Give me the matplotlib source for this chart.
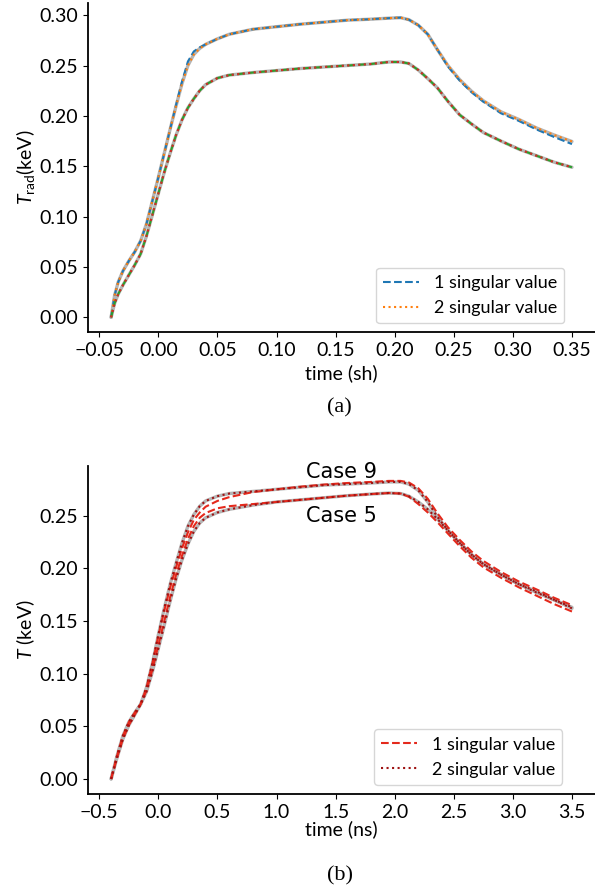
import matplotlib
matplotlib.use("Agg")
import matplotlib.pyplot as plt
from matplotlib.ticker import MultipleLocator

plt.rcParams['font.family'] = ['Lato', 'DejaVu Sans']
plt.rcParams['font.size'] = 14
plt.rcParams['legend.fontsize'] = 13
plt.rcParams['mathtext.fontset'] = 'custom'
plt.rcParams['mathtext.rm'] = 'Lato'
plt.rcParams['mathtext.it'] = 'Lato:italic'
plt.rcParams['axes.linewidth'] = 1.3

# (a) radiation temperature vs time in shakes
t_sh = [-0.040, -0.037, -0.034, -0.030, -0.025, -0.020, -0.015, -0.010, -0.005, 0.000,
        0.005, 0.010, 0.015, 0.020, 0.025, 0.030, 0.035, 0.040, 0.050, 0.060,
        0.080, 0.100, 0.120, 0.140, 0.160, 0.180, 0.195, 0.205, 0.212, 0.220,
        0.228, 0.236, 0.245, 0.255, 0.265, 0.275, 0.290, 0.305, 0.320, 0.335, 0.350]
upper_ref = [0.000, 0.022, 0.035, 0.046, 0.056, 0.065, 0.076, 0.093, 0.116, 0.139,
             0.163, 0.187, 0.210, 0.232, 0.250, 0.261, 0.267, 0.271, 0.2765, 0.281,
             0.286, 0.2885, 0.291, 0.293, 0.295, 0.296, 0.297, 0.2975, 0.2955, 0.290,
             0.281, 0.266, 0.250, 0.236, 0.2245, 0.215, 0.204, 0.1965, 0.188, 0.181, 0.1746]
upper_sv1 = [0.000, 0.022, 0.035, 0.046, 0.056, 0.065, 0.076, 0.093, 0.116, 0.139,
             0.163, 0.187, 0.211, 0.234, 0.254, 0.264, 0.268, 0.271, 0.2765, 0.281,
             0.286, 0.2885, 0.291, 0.293, 0.295, 0.296, 0.297, 0.2975, 0.2955, 0.290,
             0.281, 0.266, 0.249, 0.235, 0.2235, 0.214, 0.2025, 0.195, 0.1865, 0.179, 0.172]
upper_sv2 = upper_ref
lower_ref = [0.000, 0.014, 0.023, 0.032, 0.042, 0.052, 0.063, 0.081, 0.102, 0.123,
             0.144, 0.163, 0.181, 0.196, 0.208, 0.217, 0.225, 0.231, 0.2375, 0.2405,
             0.243, 0.245, 0.247, 0.2485, 0.250, 0.2515, 0.2535, 0.2535, 0.252, 0.2455,
             0.237, 0.228, 0.2145, 0.201, 0.192, 0.1835, 0.175, 0.167, 0.1605, 0.154, 0.149]
lower_sv1 = lower_ref
lower_sv2 = lower_ref

# (b) temperature vs time in ns, two cases
t_ns = [-0.40, -0.35, -0.30, -0.25, -0.20, -0.15, -0.10, -0.05, 0.00, 0.05,
        0.10, 0.15, 0.20, 0.25, 0.30, 0.35, 0.40, 0.50, 0.60, 0.80,
        1.00, 1.20, 1.40, 1.60, 1.80, 1.95, 2.05, 2.12, 2.20, 2.28,
        2.36, 2.45, 2.55, 2.65, 2.75, 2.90, 3.05, 3.20, 3.35, 3.50]
case9_ref = [0.000, 0.022, 0.041, 0.054, 0.063, 0.071, 0.087, 0.110, 0.137, 0.162,
             0.185, 0.205, 0.224, 0.240, 0.251, 0.259, 0.264, 0.2685, 0.271, 0.273,
             0.275, 0.277, 0.279, 0.280, 0.281, 0.282, 0.282, 0.280, 0.274, 0.263,
             0.249, 0.236, 0.224, 0.213, 0.204, 0.194, 0.185, 0.178, 0.170, 0.163]
case9_sv1 = [0.000, 0.022, 0.041, 0.054, 0.063, 0.071, 0.087, 0.110, 0.136, 0.160,
             0.182, 0.201, 0.219, 0.234, 0.246, 0.253, 0.2585, 0.264, 0.2676, 0.2724,
             0.275, 0.2775, 0.2795, 0.281, 0.282, 0.283, 0.283, 0.2815, 0.276, 0.266,
             0.2525, 0.239, 0.227, 0.216, 0.207, 0.1965, 0.1875, 0.180, 0.172, 0.165]
case9_sv2 = case9_ref
case5_ref = [0.000, 0.020, 0.038, 0.051, 0.061, 0.071, 0.083, 0.102, 0.124, 0.146,
             0.169, 0.190, 0.208, 0.223, 0.235, 0.243, 0.248, 0.253, 0.256, 0.260,
             0.263, 0.265, 0.267, 0.269, 0.2705, 0.2715, 0.271, 0.2685, 0.263, 0.256,
             0.247, 0.236, 0.224, 0.213, 0.204, 0.194, 0.185, 0.177, 0.170, 0.162]
case5_sv1 = [0.000, 0.020, 0.038, 0.051, 0.061, 0.071, 0.084, 0.104, 0.127, 0.150,
             0.173, 0.194, 0.212, 0.228, 0.240, 0.248, 0.2525, 0.257, 0.259, 0.261,
             0.263, 0.265, 0.267, 0.269, 0.2705, 0.2715, 0.271, 0.268, 0.261, 0.253,
             0.244, 0.233, 0.221, 0.210, 0.201, 0.191, 0.182, 0.174, 0.166, 0.159]
case5_sv2 = case5_ref

ref_style = dict(color='#b5b5b5', lw=2.4, solid_capstyle='round')

fig = plt.figure(figsize=(5.95, 8.91), dpi=100)
ax1 = fig.add_axes([0.148, 0.627, 0.852, 0.370])
ax2 = fig.add_axes([0.148, 0.109, 0.852, 0.368])

ax1.plot(t_sh, upper_ref, **ref_style)
ax1.plot(t_sh, lower_ref, **ref_style)
ax1.plot(t_sh, upper_sv1, '--', color='C0', lw=1.5, label='1 singular value')
ax1.plot(t_sh, upper_sv2, ':', color='C1', lw=1.5, label='2 singular value')
ax1.plot(t_sh, lower_sv1, '--', color='C2', lw=1.5)
ax1.plot(t_sh, lower_sv2, ':', color='C3', lw=1.5)
ax1.xaxis.set_major_locator(MultipleLocator(0.05))
ax1.yaxis.set_major_locator(MultipleLocator(0.05))
ax1.set_xlabel('time (sh)')
ax1.set_ylabel(r'$T_{\mathrm{rad}}$(keV)', labelpad=2)
ax1.legend(loc='lower right', bbox_to_anchor=(0.957, 0.0))

ax2.plot(t_ns, case9_ref, **ref_style)
ax2.plot(t_ns, case5_ref, **ref_style)
ax2.plot(t_ns, case9_sv1, '--', color='#e4291c', lw=1.5, label='1 singular value')
ax2.plot(t_ns, case9_sv2, ':', color='#9e1212', lw=1.5, label='2 singular value')
ax2.plot(t_ns, case5_sv1, '--', color='#e4291c', lw=1.5)
ax2.plot(t_ns, case5_sv2, ':', color='#9e1212', lw=1.5)
ax2.text(1.25, 0.291, 'Case 9', family='DejaVu Sans', fontsize=15, va='center')
ax2.text(1.25, 0.2495, 'Case 5', family='DejaVu Sans', fontsize=15, va='center')
ax2.xaxis.set_major_locator(MultipleLocator(0.5))
ax2.yaxis.set_major_locator(MultipleLocator(0.05))
ax2.set_xlabel('time (ns)', labelpad=0)
ax2.set_ylabel(r'$T$ (keV)', labelpad=2)
ax2.legend(loc='lower right', bbox_to_anchor=(0.953, 0.0))

for ax in (ax1, ax2):
    ax.spines['top'].set_visible(False)
    ax.spines['right'].set_visible(False)

fig.text(0.571, 0.542, '(a)', family='Liberation Serif', fontsize=16, ha='center', va='center')
fig.text(0.571, 0.017, '(b)', family='Liberation Serif', fontsize=16, ha='center', va='center')

fig.savefig('out.png', dpi=100)
